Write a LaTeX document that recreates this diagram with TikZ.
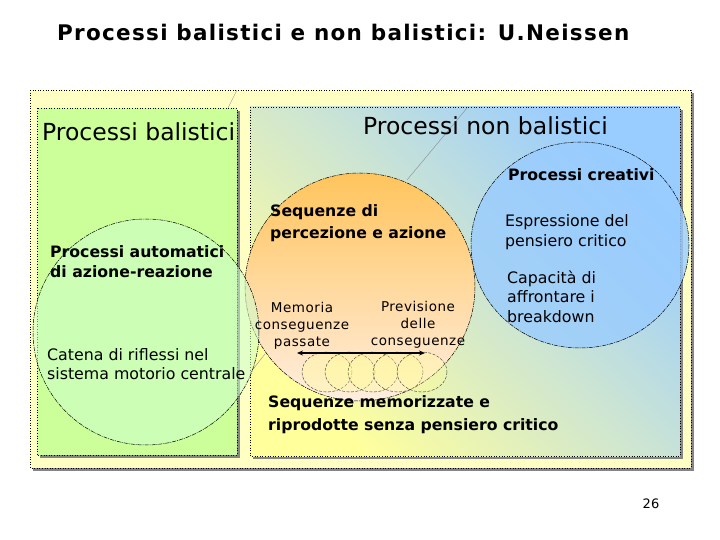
\documentclass[tikz,border=0pt]{standalone}
\usepackage{fontspec}
\setmainfont{DejaVu Sans}
\usetikzlibrary{arrows.meta}
\definecolor{outerY}{HTML}{FFFFC4}
\definecolor{greenR}{HTML}{CCFF99}
\definecolor{shadowG}{HTML}{858585}
\definecolor{nbY}{HTML}{FFFF9C}
\definecolor{nbM}{HTML}{CFE6D0}
\definecolor{nbB}{HTML}{99CCFF}
\definecolor{orTop}{HTML}{FFC45C}
\definecolor{orBot}{HTML}{FFEEE0}
\definecolor{blueC}{HTML}{99CCFF}
\definecolor{greenC}{HTML}{CCFFCC}
\definecolor{ellY}{HTML}{FFFF99}
\pgfdeclarehorizontalshading{nbshade}{100bp}{color(0bp)=(nbY); color(25bp)=(nbY); color(50bp)=(nbM); color(75bp)=(nbB); color(100bp)=(nbB)}
\tikzset{
  boxborder/.style={draw=black, line width=0.6pt, dotted},
  circline/.style={draw=black, line width=0.5pt, dash pattern=on 4pt off 1pt on 1pt off 1pt},
  ellline/.style={draw=black!80, line width=0.4pt, dash pattern=on 3pt off 1.5pt},
  faint/.style={draw=black!45, line width=0.4pt},
  txt/.style={inner sep=0pt, text=black},
  bigtxt/.style={txt, font=\fontsize{23.5}{28}\selectfont},
  boldtxt/.style={txt, align=left, font=\fontsize{15.7}{21}\selectfont\bfseries},
  regtxt/.style={txt, align=left, font=\fontsize{15.8}{19.5}\selectfont},
  smalltxt/.style={txt, align=center, font=\fontsize{13.5}{17}\selectfont\addfontfeature{LetterSpace=4}},
}
\begin{document}
\begin{tikzpicture}[x=1pt,y=-1pt]
\useasboundingbox (0,0) rectangle (720,540);
% title
\node[txt, anchor=base west, font=\fontsize{21.5}{25}\selectfont\bfseries\addfontfeature{LetterSpace=6}] (title) at (57,41) {Processi balistici e non balistici: U.Neissen};
% outer box
\fill[shadowG] (33,93) rectangle (694,471);
\path[fill=outerY, boxborder] (30,90) rectangle (691,468);
% green box
\fill[shadowG] (40,111) rectangle (240,458);
\path[fill=greenR, boxborder] (37,108) rectangle (237,455);
% right box
\fill[shadowG] (253,110) rectangle (683,459);
\path[shading=nbshade, shading angle=45, boxborder] (250,107) rectangle (680,456);
\draw[boxborder] (250,107) rectangle (680,456);
% faint lines
\draw[faint] (237,90) -- (228,108);
\draw[faint] (467,108) -- (407,180);
\draw[faint] (250,373) -- (265,354);
\draw[faint] (447,357) -- (423,380);
% blue circle
\path[fill=blueC, fill opacity=0.8, circline] (580,245) ellipse [x radius=109, y radius=103];
% orange circle
\path[top color=orTop, bottom color=orBot, circline] (360,287) ellipse [x radius=115, y radius=114];
% green circle
\path[fill=greenC, fill opacity=0.55, circline] (146,332) circle [radius=113];
% small ellipses
\foreach \cx in {327,350,373,398,422}{
  \path[fill=ellY, fill opacity=0.35, ellline] (\cx,372) ellipse [x radius=25, y radius=20];
}
% texts
\node[bigtxt, anchor=base west] (bal) at (42,141) {Processi balistici};
\node[bigtxt, anchor=base west] (nonbal) at (363,135) {Processi non balistici};
\node[txt, anchor=base west, font=\fontsize{15.7}{19}\selectfont\bfseries] (creat) at (508,181) {Processi creativi};
\node[boldtxt, anchor=base west] (seq) at (270,238) {Sequenze di\\percezione e azione};
\node[regtxt, anchor=base west] (espr) at (505,246) {Espressione del\\pensiero critico};
\node[regtxt, anchor=base west] (capa) at (507,322) {Capacità di\\affrontare i\\breakdown};
\node[boldtxt, anchor=base west, font=\fontsize{15.7}{20}\selectfont\bfseries] (auto) at (50,277) {Processi automatici\\di azione-reazione};
\node[regtxt, anchor=base west, font=\fontsize{15.8}{19}\selectfont] (caten) at (47,379) {Catena di riflessi nel\\sistema motorio centrale};
\node[smalltxt, anchor=base] (mem) at (302,346) {Memoria\\conseguenze\\passate};
\node[smalltxt, anchor=base] (prev) at (418,345) {Previsione\\delle\\conseguenze};
\node[boldtxt, anchor=base west, font=\fontsize{15.7}{23}\selectfont\bfseries] (memseq) at (268,430) {Sequenze memorizzate e\\riprodotte senza pensiero critico};
\node[txt, anchor=base, font=\fontsize{13}{15}\selectfont] (page) at (651,508) {26};
% arrow
\coordinate (arrL) at (297,353);
\coordinate (arrR) at (425,353);
\draw[line width=1.8pt, {Stealth[length=6pt,width=5pt]}-{Stealth[length=6pt,width=5pt]}] (arrL) -- (arrR);
\end{tikzpicture}
\end{document}
